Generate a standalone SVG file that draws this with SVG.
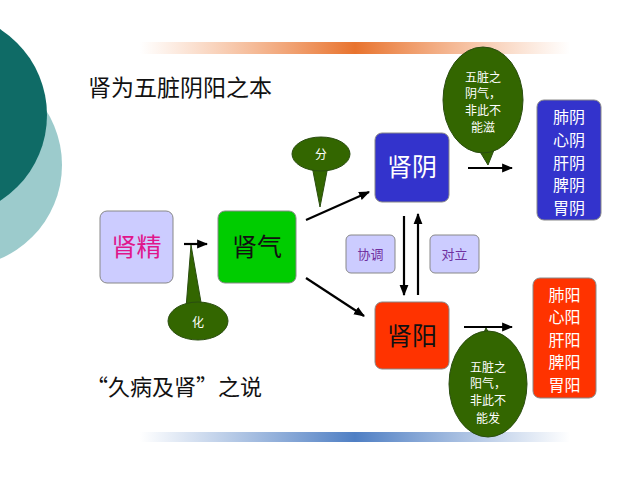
<svg xmlns="http://www.w3.org/2000/svg" width="640" height="480" viewBox="0 0 640 480">
<defs>
<linearGradient id="og" x1="0" x2="1"><stop offset="0" stop-color="#f08a4b" stop-opacity="0"/><stop offset="0.5" stop-color="#e8732e"/><stop offset="1" stop-color="#f08a4b" stop-opacity="0"/></linearGradient>
<linearGradient id="bg" x1="0" x2="1"><stop offset="0" stop-color="#5a86c6" stop-opacity="0"/><stop offset="0.5" stop-color="#4f7fc4"/><stop offset="1" stop-color="#5a86c6" stop-opacity="0"/></linearGradient>
<marker id="ah" viewBox="0 0 10 10" refX="9" refY="5" markerWidth="5" markerHeight="5" orient="auto"><path d="M0,1 L10,5 L0,9 z" fill="#000"/></marker>
</defs>
<style>
text{font-family:"Noto Sans CJK SC","Noto Sans",sans-serif;text-anchor:middle}
.ln{stroke:#000;stroke-width:2.2;fill:none;marker-end:url(#ah)}
.bub{fill:#336600;stroke:#2a4d10;stroke-width:1}
.bt{fill:#fff;font-size:12px}
.box{stroke:#888;stroke-width:1}
</style>
<rect width="640" height="480" fill="#fff"/>
<circle cx="-40" cy="165" r="102" fill="#9ccbcc"/>
<circle cx="-55" cy="115" r="102" fill="#0f6b66"/>
<rect x="140" y="42" width="430" height="12" fill="url(#og)"/>
<rect x="140" y="432" width="430" height="10" fill="url(#bg)"/>
<text x="88" y="96" font-size="23" fill="#111" style="text-anchor:start">肾为五脏阴阳之本</text>
<text x="86" y="395" font-size="22" fill="#111" style="text-anchor:start">“久病及肾”之说</text>
<g id="connectors">
<line class="ln" x1="184" y1="244" x2="207" y2="244"/>
<line class="ln" x1="306" y1="220" x2="369" y2="192"/>
<line class="ln" x1="306" y1="278" x2="364" y2="316"/>
<line class="ln" x1="404" y1="216" x2="404" y2="295"/>
<line class="ln" x1="418" y1="295" x2="418" y2="214"/>
<line class="ln" x1="468" y1="168" x2="512" y2="168"/>
<line class="ln" x1="464" y1="327" x2="512" y2="327"/>
</g>
<g id="jingbox"><rect class="box" x="100" y="211" width="73" height="72" rx="7" fill="#ccccff"/><text x="136.5" y="256" font-size="25" fill="#e0168c">肾精</text></g>
<g id="qibox"><rect class="box" x="218" y="211" width="78" height="72" rx="7" fill="#00cc00"/><text x="257" y="256" font-size="25" fill="#111">肾气</text></g>
<g id="yinbox"><rect class="box" x="375" y="133" width="74" height="69" rx="7" fill="#3333cc"/><text x="412" y="176" font-size="25" fill="#fff">肾阴</text></g>
<g id="yangbox"><rect class="box" x="375" y="302" width="74" height="67" rx="7" fill="#ff3300"/><text x="412" y="345" font-size="25" fill="#111">肾阳</text></g>
<g id="xietiao"><rect class="box" x="346" y="235" width="49" height="38" rx="5" fill="#ccccff"/><text x="370.5" y="259" font-size="13" fill="#7030a0">协调</text></g>
<g id="duili"><rect class="box" x="430" y="235" width="49" height="38" rx="5" fill="#ccccff"/><text x="454.5" y="259" font-size="13" fill="#7030a0">对立</text></g>
<g id="yinlist"><rect class="box" x="537" y="100" width="64" height="120" rx="7" fill="#3333cc"/>
<g fill="#fff" font-size="16"><text x="569" y="123">肺阴</text><text x="569" y="146">心阴</text><text x="569" y="169">肝阴</text><text x="569" y="191">脾阴</text><text x="569" y="214">胃阴</text></g></g>
<g id="yanglist"><rect class="box" x="533" y="278" width="63" height="120" rx="7" fill="#ff3300"/>
<g fill="#fff" font-size="16"><text x="564.5" y="301">肺阳</text><text x="564.5" y="323">心阳</text><text x="564.5" y="346">肝阳</text><text x="564.5" y="368">脾阳</text><text x="564.5" y="391">胃阳</text></g></g>
<g id="fen"><path class="bub" d="M312,166 L320,207 L328,166 z"/><ellipse class="bub" cx="321" cy="154" rx="29" ry="17"/><text class="bt" x="321" y="159" font-size="14">分</text></g>
<g id="hua"><path class="bub" d="M186,308 L191,245 L202,308 z"/><ellipse class="bub" cx="198" cy="321" rx="30" ry="19"/><text class="bt" x="198" y="327" font-size="15">化</text></g>
<g id="yinqi"><path class="bub" d="M476,145 L488,165 L496,145 z"/><ellipse class="bub" cx="483" cy="100" rx="40" ry="53"/>
<text class="bt" x="483" y="82">五脏之</text><text class="bt" x="483" y="98">阴气，</text><text class="bt" x="483" y="115">非此不</text><text class="bt" x="483" y="132">能滋</text></g>
<g id="yangqi"><path class="bub" d="M478,345 L486,328 L496,345 z"/><ellipse class="bub" cx="488" cy="384" rx="39" ry="53"/>
<text class="bt" x="488" y="372">五脏之</text><text class="bt" x="488" y="388">阳气，</text><text class="bt" x="488" y="405">非此不</text><text class="bt" x="488" y="423">能发</text></g>
</svg>
